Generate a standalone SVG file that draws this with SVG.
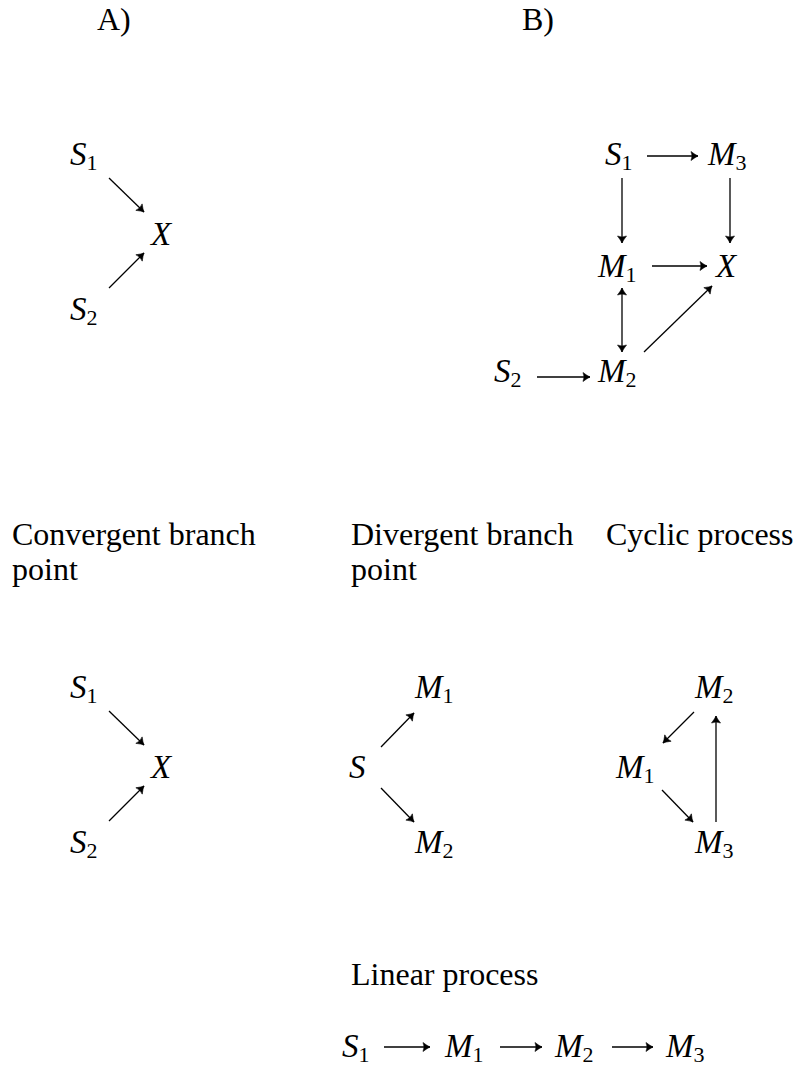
<svg xmlns="http://www.w3.org/2000/svg" width="794" height="1067" viewBox="0 0 794 1067">
<style>
.t{font-family:"Liberation Serif","Times New Roman",serif;font-size:32px;fill:#000}
.m{font-family:"Liberation Serif","Times New Roman",serif;font-size:33px;font-style:italic;fill:#000}
.s{font-size:22px;font-style:normal}
.c line{stroke:#000;stroke-width:1.3;fill:none}
</style>
<defs>
<marker id="ah" markerUnits="userSpaceOnUse" viewBox="-10 -6 12 12" refX="0" refY="0" markerWidth="12" markerHeight="12" orient="auto-start-reverse">
<path d="M-7,-4.5 Q-2.5,-1 0,0 Q-2.5,1 -7,4.5 Q-5,0 -7,-4.5 Z" fill="#000" stroke="#000" stroke-width="0.6" stroke-linejoin="round"/>
</marker>
</defs>
<rect width="794" height="1067" fill="#fff"/>
<g id="labels">
<text class="t" x="97" y="30">A)</text>
<text class="t" x="522" y="30">B)</text>
<text class="t" x="12" y="545">Convergent branch</text>
<text class="t" x="12" y="580">point</text>
<text class="t" x="351" y="545">Divergent branch</text>
<text class="t" x="351" y="580">point</text>
<text class="t" x="606" y="545">Cyclic process</text>
<text class="t" x="351" y="985">Linear process</text>
</g>
<g id="A-S1"><text class="m" x="70" y="165">S<tspan class="s" dy="5">1</tspan></text></g>
<g id="A-X"><text class="m" x="151" y="245">X</text></g>
<g id="A-S2"><text class="m" x="70" y="320">S<tspan class="s" dy="5">2</tspan></text></g>
<g id="B-S1"><text class="m" x="605" y="165">S<tspan class="s" dy="5">1</tspan></text></g>
<g id="B-M3"><text class="m" x="708" y="165">M<tspan class="s" dy="5">3</tspan></text></g>
<g id="B-M1"><text class="m" x="598" y="277">M<tspan class="s" dy="5">1</tspan></text></g>
<g id="B-X"><text class="m" x="716" y="277">X</text></g>
<g id="B-S2"><text class="m" x="494" y="382">S<tspan class="s" dy="5">2</tspan></text></g>
<g id="B-M2"><text class="m" x="598" y="382">M<tspan class="s" dy="5">2</tspan></text></g>
<g id="C-S1"><text class="m" x="70" y="698">S<tspan class="s" dy="5">1</tspan></text></g>
<g id="C-X"><text class="m" x="151" y="778">X</text></g>
<g id="C-S2"><text class="m" x="70" y="853">S<tspan class="s" dy="5">2</tspan></text></g>
<g id="D-S"><text class="m" x="349" y="778">S</text></g>
<g id="D-M1"><text class="m" x="415" y="698">M<tspan class="s" dy="5">1</tspan></text></g>
<g id="D-M2"><text class="m" x="415" y="853">M<tspan class="s" dy="5">2</tspan></text></g>
<g id="E-M2"><text class="m" x="695" y="698">M<tspan class="s" dy="5">2</tspan></text></g>
<g id="E-M1"><text class="m" x="616" y="778">M<tspan class="s" dy="5">1</tspan></text></g>
<g id="E-M3"><text class="m" x="695" y="853">M<tspan class="s" dy="5">3</tspan></text></g>
<g id="L-S1"><text class="m" x="342" y="1057">S<tspan class="s" dy="5">1</tspan></text></g>
<g id="L-M1"><text class="m" x="445" y="1057">M<tspan class="s" dy="5">1</tspan></text></g>
<g id="L-M2"><text class="m" x="555" y="1057">M<tspan class="s" dy="5">2</tspan></text></g>
<g id="L-M3"><text class="m" x="666" y="1057">M<tspan class="s" dy="5">3</tspan></text></g>
<g id="connectors" class="c">
<line x1="109" y1="178" x2="144" y2="212" marker-end="url(#ah)"/>
<line x1="109" y1="288" x2="144" y2="253" marker-end="url(#ah)"/>
<line x1="647" y1="156" x2="698" y2="156" marker-end="url(#ah)"/>
<line x1="622" y1="178" x2="622" y2="243" marker-end="url(#ah)"/>
<line x1="730" y1="178" x2="730" y2="243" marker-end="url(#ah)"/>
<line x1="652" y1="266" x2="707" y2="266" marker-end="url(#ah)"/>
<line x1="622" y1="288" x2="622" y2="352" marker-start="url(#ah)" marker-end="url(#ah)"/>
<line x1="644" y1="352" x2="712" y2="286" marker-end="url(#ah)"/>
<line x1="537" y1="377" x2="590" y2="377" marker-end="url(#ah)"/>
<line x1="109" y1="711" x2="144" y2="745" marker-end="url(#ah)"/>
<line x1="109" y1="821" x2="144" y2="786" marker-end="url(#ah)"/>
<line x1="381" y1="747" x2="414" y2="713" marker-end="url(#ah)"/>
<line x1="381" y1="788" x2="414" y2="822" marker-end="url(#ah)"/>
<line x1="694" y1="712" x2="663" y2="743" marker-end="url(#ah)"/>
<line x1="662" y1="790" x2="693" y2="822" marker-end="url(#ah)"/>
<line x1="716" y1="822" x2="716" y2="716" marker-end="url(#ah)"/>
<line x1="384" y1="1047" x2="430" y2="1047" marker-end="url(#ah)"/>
<line x1="500" y1="1047" x2="542" y2="1047" marker-end="url(#ah)"/>
<line x1="612" y1="1047" x2="653" y2="1047" marker-end="url(#ah)"/>
</g>
</svg>
